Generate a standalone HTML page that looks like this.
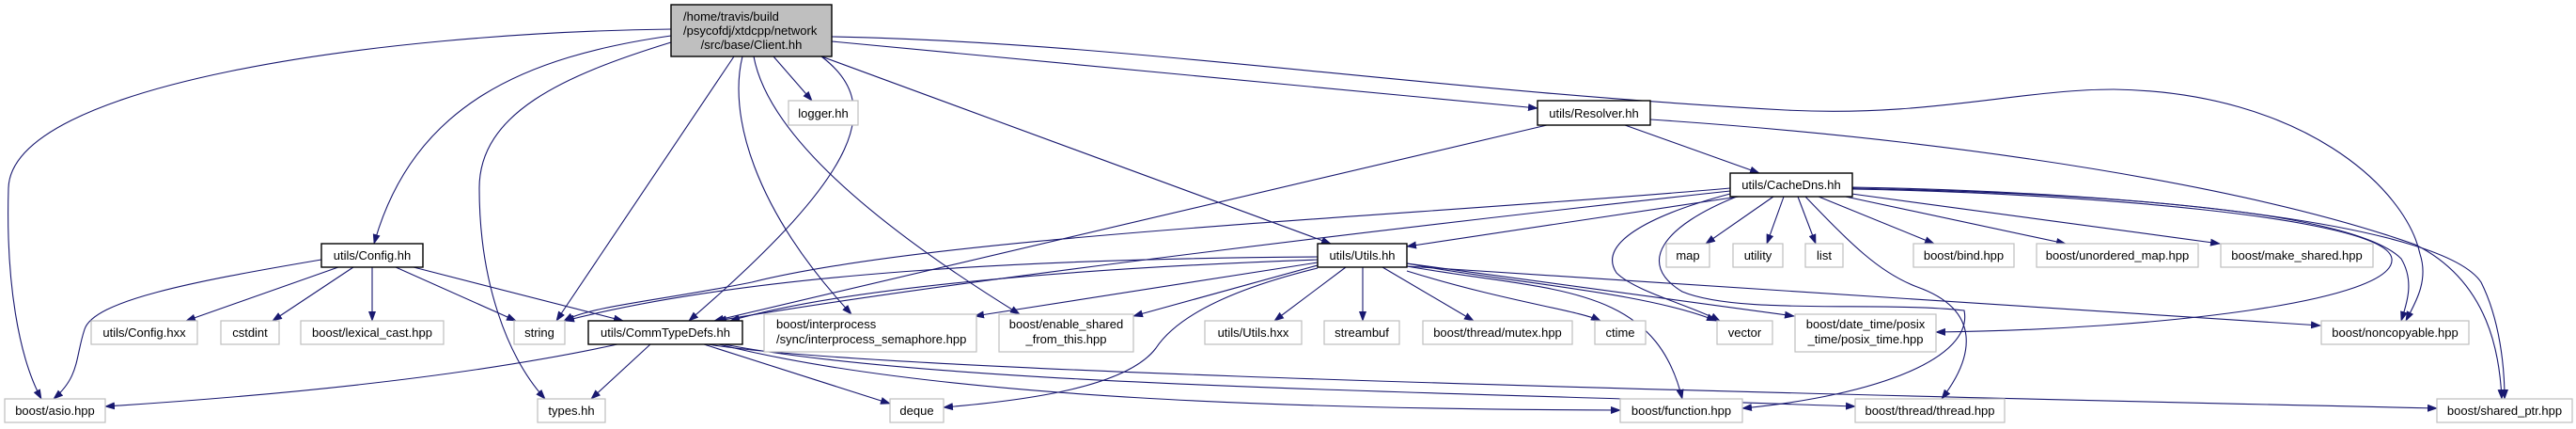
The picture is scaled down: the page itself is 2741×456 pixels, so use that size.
<!DOCTYPE html>
<html><head><meta charset="utf-8"><style>
html,body{margin:0;padding:0;background:#fff;}
svg{display:block;}
text{font-family:"Liberation Sans",Helvetica,Arial,sans-serif;font-size:13px;fill:#000;}
.e{fill:none;stroke:#191970;stroke-width:1.1;marker-end:url(#a);}
.n{fill:#fff;stroke:#bfbfbf;stroke-width:1.2;}
.d{fill:#fff;stroke:#000;stroke-width:1.4;}
</style></head><body>
<svg width="2741" height="456" viewBox="0 0 2741 456" xmlns="http://www.w3.org/2000/svg">
<defs><marker id="a" markerUnits="userSpaceOnUse" markerWidth="11" markerHeight="8" refX="10" refY="4" orient="auto"><path d="M0,0 L11,4 L0,8 z" fill="#191970"/></marker></defs>
<g>
<path class="e" d="M714,31 C400,35 12,90 9,200 C6,300 20,380 44,424"/>
<path class="e" d="M714,38 C560,60 440,110 398,259"/>
<path class="e" d="M714,45 C600,80 510,120 510,200 C510,300 540,380 580,424"/>
<path class="e" d="M781,60 L592,341"/>
<path class="e" d="M790,60 C775,120 800,220 906,334"/>
<path class="e" d="M802,60 C815,130 900,220 1085,334"/>
<path class="e" d="M823,60 L864,107"/>
<path class="e" d="M874,60 C940,110 920,180 733,341"/>
<path class="e" d="M874,60 L1416,259"/>
<path class="e" d="M885,44 L1636,115"/>
<path class="e" d="M885,39 C1200,45 1500,95 1900,117 C2050,125 2150,95 2249,95 C2450,98 2560,200 2575,270 C2585,300 2568,325 2560,341"/>
<path class="e" d="M1646,133 L760,341"/>
<path class="e" d="M1729,133 L1872,184"/>
<path class="e" d="M1756,127 C2100,150 2400,200 2570,260 C2650,300 2660,380 2662,424"/>
<path class="e" d="M1841,200 C1500,230 1000,250 800,300 C700,320 630,325 600,341"/>
<path class="e" d="M1841,203 C1500,240 1000,300 763,341"/>
<path class="e" d="M1850,209 L1497,262"/>
<path class="e" d="M1841,206 C1750,230 1700,260 1720,290 C1740,310 1800,325 1830,341"/>
<path class="e" d="M1848,209 C1770,240 1740,280 1790,310 C1850,335 2000,320 2090,330 C2100,380 2000,420 1854,434"/>
<path class="e" d="M1887,209 L1815,259"/>
<path class="e" d="M1898,209 L1880,259"/>
<path class="e" d="M1913,209 L1932,259"/>
<path class="e" d="M1935,209 L2058,259"/>
<path class="e" d="M1959,208 L2198,259"/>
<path class="e" d="M1970,206 L2362,259"/>
<path class="e" d="M1971,200 C2200,205 2500,220 2555,275 C2570,300 2560,325 2555,341"/>
<path class="e" d="M1971,199 C2300,205 2600,240 2640,300 C2660,340 2665,390 2665,424"/>
<path class="e" d="M1971,201 C2200,205 2540,230 2545,275 C2550,320 2300,350 2060,353"/>
<path class="e" d="M1921,209 C1970,260 2000,290 2040,305 C2110,330 2100,380 2066,424"/>
<path class="e" d="M1432,284 L1356,341"/>
<path class="e" d="M1450,284 L1450,341"/>
<path class="e" d="M1471,284 L1568,341"/>
<path class="e" d="M1497,288 C1600,320 1680,330 1703,341"/>
<path class="e" d="M1497,280 C1600,300 1750,310 1826,341"/>
<path class="e" d="M1497,283 C1650,310 1760,300 1790,424"/>
<path class="e" d="M1497,280 L1909,336"/>
<path class="e" d="M1497,283 L2469,346"/>
<path class="e" d="M1402,273 C1100,275 800,290 601,341"/>
<path class="e" d="M1402,276 C1150,285 900,305 777,341"/>
<path class="e" d="M1402,279 L1037,336"/>
<path class="e" d="M1402,282 L1206,336"/>
<path class="e" d="M1402,285 C1300,310 1250,340 1230,370 C1200,410 1100,425 1004,433"/>
<path class="e" d="M657,366 C500,400 300,420 112,432"/>
<path class="e" d="M692,366 L629,424"/>
<path class="e" d="M749,366 L947,429"/>
<path class="e" d="M753,366 C900,390 1500,410 2593,434"/>
<path class="e" d="M770,366 C1000,410 1500,415 1974,432"/>
<path class="e" d="M765,366 C1000,425 1400,435 1724,436"/>
<path class="e" d="M342,276 C200,300 100,320 90,350 C80,380 85,400 57,424"/>
<path class="e" d="M360,284 L198,341"/>
<path class="e" d="M376,284 L290,341"/>
<path class="e" d="M396,284 L396,341"/>
<path class="e" d="M421,284 L549,341"/>
<path class="e" d="M440,284 L663,341"/>
</g>
<g>
<rect x="714" y="5" width="171" height="55" fill="#bfbfbf" stroke="#000" stroke-width="1.4"/>
<text x="727" y="22">/home/travis/build</text>
<text x="727" y="37">/psycofdj/xtdcpp/network</text>
<text x="799.5" y="52" text-anchor="middle">/src/base/Client.hh</text>

<rect class="n" x="839" y="107" width="74" height="26"/><text x="876" y="125" text-anchor="middle">logger.hh</text>
<rect class="d" x="1636" y="107" width="120" height="26"/><text x="1696" y="125" text-anchor="middle">utils/Resolver.hh</text>
<rect class="d" x="1841" y="184" width="130" height="25"/><text x="1906" y="201" text-anchor="middle">utils/CacheDns.hh</text>

<rect class="d" x="342" y="259" width="108" height="25"/><text x="396" y="276" text-anchor="middle">utils/Config.hh</text>
<rect class="d" x="1402" y="259" width="95" height="25"/><text x="1449.5" y="276" text-anchor="middle">utils/Utils.hh</text>
<rect class="n" x="1773" y="259" width="46" height="25"/><text x="1796" y="276" text-anchor="middle">map</text>
<rect class="n" x="1844" y="259" width="53" height="25"/><text x="1870.5" y="276" text-anchor="middle">utility</text>
<rect class="n" x="1921" y="259" width="40" height="25"/><text x="1941" y="276" text-anchor="middle">list</text>
<rect class="n" x="2036" y="259" width="107" height="25"/><text x="2089.5" y="276" text-anchor="middle">boost/bind.hpp</text>
<rect class="n" x="2167" y="259" width="172" height="25"/><text x="2253" y="276" text-anchor="middle">boost/unordered_map.hpp</text>
<rect class="n" x="2363" y="259" width="162" height="25"/><text x="2444" y="276" text-anchor="middle">boost/make_shared.hpp</text>

<rect class="n" x="97" y="341" width="113" height="25"/><text x="153.5" y="358" text-anchor="middle">utils/Config.hxx</text>
<rect class="n" x="235" y="341" width="62" height="25"/><text x="266" y="358" text-anchor="middle">cstdint</text>
<rect class="n" x="320" y="341" width="152" height="25"/><text x="396" y="358" text-anchor="middle">boost/lexical_cast.hpp</text>
<rect class="n" x="547" y="341" width="54" height="25"/><text x="574" y="358" text-anchor="middle">string</text>
<rect class="d" x="626" y="341" width="164" height="25"/><text x="708" y="358" text-anchor="middle">utils/CommTypeDefs.hh</text>
<rect class="n" x="813" y="334" width="226" height="40"/><text x="826" y="349">boost/interprocess</text><text x="826" y="365">/sync/interprocess_semaphore.hpp</text>
<rect class="n" x="1063" y="334" width="143" height="40"/><text x="1134.5" y="349" text-anchor="middle">boost/enable_shared</text><text x="1134.5" y="365" text-anchor="middle">_from_this.hpp</text>
<rect class="n" x="1282" y="341" width="103" height="25"/><text x="1333.5" y="358" text-anchor="middle">utils/Utils.hxx</text>
<rect class="n" x="1409" y="341" width="80" height="25"/><text x="1449" y="358" text-anchor="middle">streambuf</text>
<rect class="n" x="1514" y="341" width="159" height="25"/><text x="1593.5" y="358" text-anchor="middle">boost/thread/mutex.hpp</text>
<rect class="n" x="1697" y="341" width="54" height="25"/><text x="1724" y="358" text-anchor="middle">ctime</text>
<rect class="n" x="1827" y="341" width="59" height="25"/><text x="1856.5" y="358" text-anchor="middle">vector</text>
<rect class="n" x="1910" y="334" width="150" height="40"/><text x="1985" y="349" text-anchor="middle">boost/date_time/posix</text><text x="1985" y="365" text-anchor="middle">_time/posix_time.hpp</text>
<rect class="n" x="2470" y="341" width="157" height="25"/><text x="2548.5" y="358" text-anchor="middle">boost/noncopyable.hpp</text>

<rect class="n" x="5" y="424" width="107" height="25"/><text x="58.5" y="441" text-anchor="middle">boost/asio.hpp</text>
<rect class="n" x="572" y="424" width="72" height="25"/><text x="608" y="441" text-anchor="middle">types.hh</text>
<rect class="n" x="947" y="424" width="57" height="25"/><text x="975.5" y="441" text-anchor="middle">deque</text>
<rect class="n" x="1724" y="424" width="130" height="25"/><text x="1789" y="441" text-anchor="middle">boost/function.hpp</text>
<rect class="n" x="1974" y="424" width="159" height="25"/><text x="2053.5" y="441" text-anchor="middle">boost/thread/thread.hpp</text>
<rect class="n" x="2593" y="424" width="144" height="25"/><text x="2665" y="441" text-anchor="middle">boost/shared_ptr.hpp</text>
</g>
</svg>
</body></html>
